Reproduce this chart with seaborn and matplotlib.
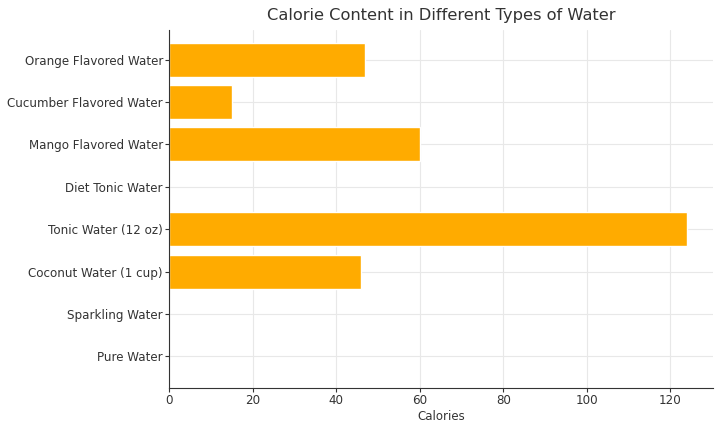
"""Horizontal bar chart of calorie content in different types of water"""

import pandas as pd
import seaborn as sns
import matplotlib.pyplot as plt

# data, listed top to bottom as drawn
water_types = ['Orange Flavored Water', 'Cucumber Flavored Water', 'Mango Flavored Water',
               'Diet Tonic Water', 'Tonic Water (12 oz)', 'Coconut Water (1 cup)',
               'Sparkling Water', 'Pure Water']
calories = [47, 15, 60, 0, 124, 46, 0, 0]

df = pd.DataFrame({'water': water_types, 'calories': calories})

sns.set_style('whitegrid', {'grid.color': '#e8e8e8', 'axes.edgecolor': '#333333'})
plt.rcParams['font.family'] = ['DejaVu Sans']

fig, ax = plt.subplots(figsize=(7.2, 4.28), dpi=100)
sns.barplot(data=df, x='calories', y='water', order=water_types, color='#ffab00',
            saturation=1, width=0.8, ax=ax)

ax.set_xlim(0, 130.2)
ax.set_ylim(7.75, -0.7)
ax.set_xticks([0, 20, 40, 60, 80, 100, 120])
ax.grid(True, axis='both', color='#e8e8e8', linewidth=0.8)
ax.set_title('Calorie Content in Different Types of Water', fontsize=11.7, color='#333333', pad=7)
ax.set_xlabel('Calories', fontsize=8.5, color='#333333', labelpad=2)
ax.set_ylabel('')
ax.tick_params(axis='both', labelsize=8.6, colors='#333333', length=3, left=True, bottom=True)
ax.tick_params(axis='y', pad=1.5)
ax.tick_params(axis='x', pad=1.5)
for side in ['top', 'right']:
    ax.spines[side].set_visible(False)
ax.set_axisbelow(True)

fig.subplots_adjust(left=0.235, right=0.99, top=0.93, bottom=0.093)
plt.savefig('out.png')
